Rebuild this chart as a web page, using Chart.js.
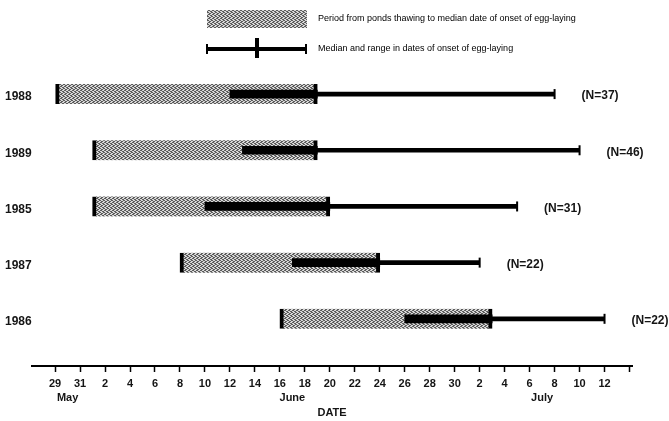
<!DOCTYPE html>
<html>
<head>
<meta charset="utf-8">
<script src="https://cdn.jsdelivr.net/npm/chart.js@4.4.1/dist/chart.umd.min.js"></script>
<style>
  html, body { margin: 0; padding: 0; background: #fff; }
  #wrap { width: 669px; height: 421px; position: relative; }
</style>
</head>
<body>
<div id="wrap"><canvas id="chart"></canvas></div>
<script>
// Days counted from 29 May (0 = May 29, 3 = June 1, 33 = July 1)
const years = ['1988', '1989', '1985', '1987', '1986'];
const thawDay = [0, 3, 3, 10, 18];
const rangeStart = [14, 15, 12, 19, 28];
const medianDay = [21, 21, 22, 26, 35];
const rangeEnd = [40, 42, 37, 34, 44];
const sampleN = [37, 46, 31, 22, 22];

const tickLabels = ['29', '31', '2', '4', '6', '8', '10', '12', '14', '16', '18', '20',
                    '22', '24', '26', '28', '30', '2', '4', '6', '8', '10', '12', ''];
const monthNames = ['May', 'June', 'July'];
const monthDay = [1, 19, 39];

const FONT = '"Liberation Sans", Arial, sans-serif';
const INK = '#151515';

// stippled grey like the printed halftone
function makeStipple() {
    const c = document.createElement('canvas');
    c.width = 4; c.height = 4;
    const g = c.getContext('2d');
    g.fillStyle = '#d8d8d8';
    g.fillRect(0, 0, 4, 4);
    g.fillStyle = '#5c5c5c';
    [[0, 0], [2, 1], [1, 2], [3, 3], [2, 3], [0, 2], [3, 0], [1, 1]].forEach(p => g.fillRect(p[0], p[1], 1, 1));
    return g.createPattern(c, 'repeat');
}
const stipple = makeStipple();

const thawBars = years.map((y, i) => ({ x: [thawDay[i], medianDay[i]], y: i }));
const earlyRange = years.map((y, i) => ({ x: [rangeStart[i], medianDay[i]], y: i }));
const lateRange = years.map((y, i) => ({ x: [medianDay[i], rangeEnd[i]], y: i }));
const endCaps = years.map((y, i) => ({ x: rangeEnd[i], y: i }));

const extras = {
    id: 'extras',
    afterDraw(chart) {
        const ctx = chart.ctx;
        const xs = chart.scales.x, ys = chart.scales.y;
        ctx.save();

        // legend
        ctx.fillStyle = stipple;
        ctx.fillRect(207, 10, 100, 18);
        ctx.fillStyle = '#000';
        ctx.fillRect(207, 47, 99, 4);
        ctx.fillRect(206, 44, 2, 10);
        ctx.fillRect(305, 44, 2, 10);
        ctx.fillRect(255, 38, 4, 20);

        ctx.fillStyle = '#000';
        ctx.font = '9px ' + FONT;
        ctx.textAlign = 'left';
        ctx.textBaseline = 'middle';
        ctx.fillText('Period from ponds thawing to median date of onset of egg-laying', 318, 19);
        ctx.fillText('Median and range in dates of onset of egg-laying', 318, 49);

        // sample sizes
        ctx.fillStyle = INK;
        ctx.font = 'bold 12px ' + FONT;
        sampleN.forEach((n, i) => {
            ctx.fillText('(N=' + n + ')', xs.getPixelForValue(rangeEnd[i]) + 27, ys.getPixelForValue(i) + 2);
        });

        // month names under the day ticks
        ctx.font = 'bold 11px ' + FONT;
        ctx.textAlign = 'center';
        monthNames.forEach((m, i) => {
            ctx.fillText(m, xs.getPixelForValue(monthDay[i]), 398);
        });
        ctx.restore();
    }
};

new Chart(document.getElementById('chart'), {
    type: 'bar',
    data: {
        datasets: [
            {
                data: thawBars,
                backgroundColor: stipple,
                borderColor: '#000',
                borderWidth: { left: 4, right: 4, top: 0, bottom: 0 },
                borderSkipped: false,
                barThickness: 20,
                grouped: false,
                order: 3
            },
            {
                data: earlyRange,
                backgroundColor: '#000',
                barThickness: 8,
                grouped: false,
                order: 2
            },
            {
                data: lateRange,
                backgroundColor: '#000',
                barThickness: 4,
                grouped: false,
                order: 2
            },
            {
                type: 'scatter',
                data: endCaps,
                pointStyle: 'line',
                rotation: 90,
                radius: 5,
                borderWidth: 2,
                borderColor: '#000',
                order: 1
            }
        ]
    },
    options: {
        indexAxis: 'y',
        responsive: true,
        maintainAspectRatio: false,
        animation: false,
        layout: { padding: { top: 66, right: 37, left: 5, bottom: 0 } },
        plugins: {
            legend: { display: false },
            tooltip: { enabled: false }
        },
        scales: {
            x: {
                type: 'linear',
                min: -1.85,
                max: 46.2,
                grid: {
                    drawOnChartArea: false,
                    drawTicks: true,
                    tickLength: 6,
                    tickColor: '#000',
                    tickWidth: 1.5
                },
                border: { color: '#000', width: 2 },
                ticks: {
                    stepSize: 2,
                    includeBounds: false,
                    autoSkip: false,
                    maxRotation: 0,
                    padding: 5,
                    color: INK,
                    font: { family: FONT, size: 11, weight: 'bold' },
                    callback: v => tickLabels[v / 2] ?? ''
                },
                title: {
                    display: true,
                    text: 'DATE',
                    color: INK,
                    font: { family: FONT, size: 11, weight: 'bold' },
                    padding: { top: 0, bottom: 1 }
                },
                afterFit: s => { s.height = 55; }
            },
            y: {
                type: 'linear',
                reverse: true,
                offset: false,
                min: -0.5,
                max: 4.84,
                grid: { display: false },
                border: { display: false },
                ticks: {
                    stepSize: 1,
                    includeBounds: false,
                    crossAlign: 'far',
                    labelOffset: 3,
                    color: INK,
                    font: { family: FONT, size: 12, weight: 'bold' },
                    callback: v => years[v] ?? ''
                },
                afterFit: s => { s.width = 27; }
            }
        }
    },
    plugins: [extras]
});
</script>
</body>
</html>
